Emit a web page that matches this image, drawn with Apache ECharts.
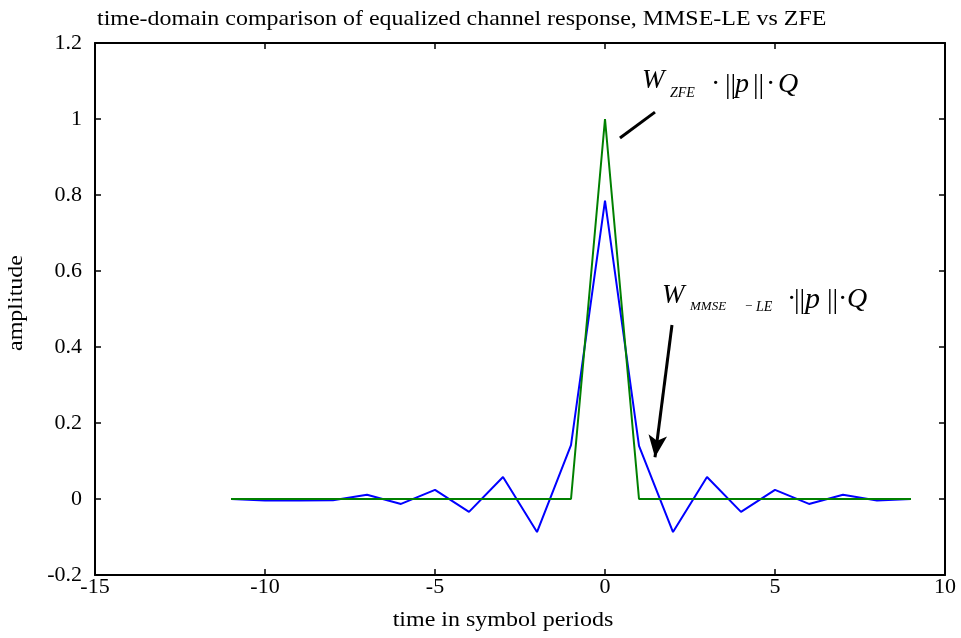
<!DOCTYPE html>
<html><head><meta charset="utf-8">
<script src="https://cdn.jsdelivr.net/npm/echarts@6/dist/echarts.min.js"></script>
<style>html,body{margin:0;padding:0;background:#fff}#c{width:961px;height:638px}</style>
</head><body><div id="c"></div>
<script>
const times = [-11,-10,-9,-8,-7,-6,-5,-4,-3,-2,-1,0,1,2,3,4,5,6,7,8,9];
const mmse = [0,-0.004,-0.004,-0.003,0.011,-0.013,0.024,-0.034,0.058,-0.087,0.142,0.785,0.14,-0.087,0.058,-0.034,0.024,-0.013,0.011,-0.004,0.000];
const zfe  = [0,0,0,0,0,0,0,0,0,0,0,1,0,0,0,0,0,0,0,0,0];
const xTicks = [-15,-10,-5,0,5,10];
const yTicks = [-0.2,0,0.2,0.4,0.6,0.8,1,1.2];
const titleText = 'time-domain comparison of equalized channel response, MMSE-LE vs ZFE';
const xName = 'time in symbol periods';
const yName = 'amplitude';

const FONT = '"Liberation Serif", "Times New Roman", serif';
const chart = echarts.init(document.getElementById('c'), null, {renderer:'canvas'});
const axText = {fontFamily: FONT, fontSize: 22, color: '#000'};
const xAxisBase = {type:'value', min:xTicks[0], max:xTicks[xTicks.length-1], interval:5, splitLine:{show:false},
  axisLine:{show:true, onZero:false, lineStyle:{color:'#000', width:2}},
  axisTick:{show:true, inside:true, length:6, lineStyle:{color:'#000', width:1.5}}};
const yAxisBase = {type:'value', min:yTicks[0], max:yTicks[yTicks.length-1], interval:0.2, splitLine:{show:false},
  axisLine:{show:true, onZero:false, lineStyle:{color:'#000', width:2}},
  axisTick:{show:true, inside:true, length:6, lineStyle:{color:'#000', width:1.5}}};
const pairs = (xs, ys) => xs.map((x,i)=>[x, ys[i]]);

function t(text, x, y, size, italic, extra, align) {
  return Object.assign({type:'text', x:x, y:y, silent:true, z:100,
    style:{text:text, fontFamily:FONT, fontSize:size, fontStyle: italic ? 'italic' : 'normal',
      fill:'#000', align:align || 'left', verticalAlign:'middle'}}, extra || {});
}

chart.setOption({
  animation:false,
  backgroundColor:'#fff',
  grid:{left:95, right:16, top:43, bottom:63},
  xAxis:[
    Object.assign({}, xAxisBase, {position:'bottom', axisLabel:Object.assign({margin:1, formatter:v=>String(v)}, axText)}),
    Object.assign({}, xAxisBase, {position:'top', axisLabel:{show:false}})
  ],
  yAxis:[
    Object.assign({}, yAxisBase, {position:'left', axisLabel:Object.assign({margin:13, formatter:v=>String(Math.round(v*10)/10)}, axText)}),
    Object.assign({}, yAxisBase, {position:'right', axisLabel:{show:false}})
  ],
  series:[
    {type:'line', name:'MMSE-LE', data:pairs(times, mmse), showSymbol:false, symbol:'none',
     lineStyle:{color:'#0000ff', width:2}, z:2,
     markLine:{silent:true, symbol:['none','none'], animation:false, label:{show:false},
       lineStyle:{color:'#000', width:3, type:'solid'},
       data:[
         [{coord:[0.44,0.95], symbol:'none'},{coord:[1.47,1.018], symbol:'none'}],
         [{coord:[1.97,0.458], symbol:'none'},{coord:[1.47,0.11], symbol:'arrow', symbolSize:[14,22]}]
       ]}},
    {type:'line', name:'ZFE', data:pairs(times, zfe), showSymbol:false, symbol:'none',
     lineStyle:{color:'#008000', width:2}, z:3}
  ],
  graphic:[
    // title and axis names (reference text is horizontally stretched)
    t(titleText, 97, 19, 21, false, {scaleX:1.14}),
    t(xName, 503, 621, 20, false, {scaleX:1.2}, 'center'),
    {type:'text', x:17, y:303, rotation:Math.PI/2, scaleX:1.2, silent:true,
      style:{text:yName, fontFamily:FONT, fontSize:20, fill:'#000', align:'center', verticalAlign:'middle'}},
    // annotation 1: W_ZFE · ||p|| · Q
    t('W', 642, 81, 27, true),
    t('ZFE', 670, 93, 14, true),
    t('·', 711, 85, 28, false),
    t('||', 725, 86, 28, false),
    t('p', 735, 85, 28, true),
    t('||', 753, 86, 28, false),
    t('·', 766, 85, 28, false),
    t('Q', 778, 85, 28, true),
    // annotation 2: W_MMSE-LE · ||p|| · Q
    t('W', 662, 296, 27, true),
    t('MMSE', 690, 307, 13, true),
    t('−', 745, 307, 13, false),
    t('LE', 756, 307, 14, true),
    t('·', 787, 300, 28, false),
    t('||', 794, 301, 28, false),
    t('p', 805, 300, 30, true),
    t('||', 827, 301, 28, false),
    t('·', 838, 300, 28, false),
    t('Q', 847, 300, 28, true)
  ]
});
</script></body></html>
